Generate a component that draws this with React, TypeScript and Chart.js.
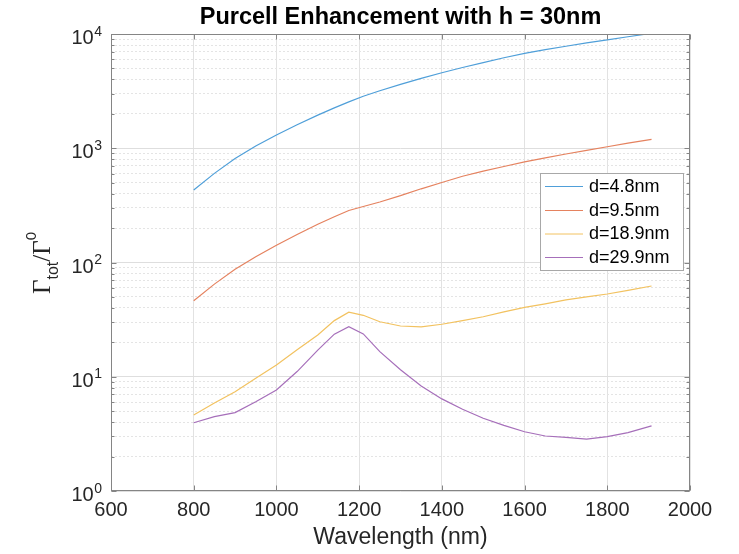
import React, { useEffect, useRef } from 'react';
import { Chart, registerables } from 'chart.js';

Chart.register(...registerables);

// ---- data ----
const wavelength = [800, 850, 900, 950, 1000, 1050, 1100, 1140, 1175, 1210, 1250, 1300, 1350, 1400, 1450, 1500, 1550, 1600, 1650, 1700, 1750, 1800, 1850, 1907];
const d48 = [431.5, 602.6, 812.8, 1047, 1306, 1607, 1950, 2254, 2547, 2851, 3184, 3622, 4093, 4581, 5093, 5623, 6194, 6776, 7295, 7816, 8356, 8872, 9462, 10139];
const d95 = [46.3, 64.7, 87.3, 112.5, 141.6, 175.8, 216.3, 251.2, 285.1, 309, 338.8, 384.6, 441.6, 501.2, 568.9, 631, 691.8, 758.6, 822.2, 891, 959.4, 1030, 1109, 1197];
const d189 = [4.63, 5.9, 7.4, 9.7, 12.7, 17.2, 23.2, 31, 36.7, 34.5, 30.3, 27.8, 27.3, 28.8, 31, 33.5, 37, 40.5, 43.5, 47, 50, 53, 57, 62.3];
const d299 = [3.96, 4.47, 4.85, 6.05, 7.66, 11.1, 17.1, 23.6, 27.4, 23.7, 16.6, 11.5, 8.3, 6.4, 5.2, 4.33, 3.75, 3.3, 3.03, 2.95, 2.85, 2.99, 3.24, 3.71];
const seriesLabels = ['d=4.8nm', 'd=9.5nm', 'd=18.9nm', 'd=29.9nm'];
const seriesValues = [d48, d95, d189, d299];
const seriesColors = ['#4f9fd9', '#e5825f', '#f2c260', '#a66fba'];

const xTickValues = [600, 800, 1000, 1200, 1400, 1600, 1800, 2000];
const yMajorTicks = [1, 10, 100, 1000, 10000];
const yExponentLabels = ['0', '1', '2', '3', '4'];
const yMinorTicks = [2, 3, 4, 5, 6, 7, 8, 9, 20, 30, 40, 50, 60, 70, 80, 90, 200, 300, 400, 500, 600, 700, 800, 900, 2000, 3000, 4000, 5000, 6000, 7000, 8000, 9000];

const titleText = 'Purcell Enhancement with h = 30nm';
const xTitleText = 'Wavelength (nm)';

const SANS = '"Liberation Sans", Arial, Helvetica, sans-serif';
const SERIF = '"Liberation Serif", "Times New Roman", serif';
const TEXT = '#262626';
const AXIS = '#858585';

const decorPlugin = {
  id: 'decor',
  afterDraw(chart: any) {
    const ctx = chart.ctx as CanvasRenderingContext2D;
    const a = chart.chartArea;
    const xs = chart.scales.x;
    const ys = chart.scales.y;
    const L = Math.round(a.left) + 0.5;
    const R = Math.round(a.right) - 0.5;
    const T = Math.round(a.top) + 0.5;
    const B = Math.round(a.bottom) - 0.5;
    ctx.save();

    // box
    ctx.strokeStyle = AXIS;
    ctx.lineWidth = 1;
    ctx.strokeRect(L, T, R - L, B - T);

    // inward tick marks
    ctx.beginPath();
    xTickValues.forEach((v) => {
      const px = Math.round(xs.getPixelForValue(v)) + 0.5;
      ctx.moveTo(px, B); ctx.lineTo(px, B - 5);
      ctx.moveTo(px, T); ctx.lineTo(px, T + 5);
    });
    yMajorTicks.forEach((v) => {
      const py = Math.round(ys.getPixelForValue(v)) + 0.5;
      ctx.moveTo(L, py); ctx.lineTo(L + 5, py);
      ctx.moveTo(R, py); ctx.lineTo(R - 5, py);
    });
    yMinorTicks.forEach((v) => {
      const py = Math.round(ys.getPixelForValue(v)) + 0.5;
      ctx.moveTo(L, py); ctx.lineTo(L + 3, py);
      ctx.moveTo(R, py); ctx.lineTo(R - 3, py);
    });
    ctx.stroke();

    // y tick labels 10^n
    ctx.fillStyle = TEXT;
    yMajorTicks.forEach((v, i) => {
      const py = ys.getPixelForValue(v);
      ctx.font = `14px ${SANS}`;
      const ew = ctx.measureText(yExponentLabels[i]).width;
      const expRight = a.left - 9;
      ctx.textAlign = 'left';
      ctx.textBaseline = 'alphabetic';
      ctx.fillText(yExponentLabels[i], expRight - ew, py + 1.5);
      ctx.font = `20px ${SANS}`;
      ctx.textAlign = 'right';
      ctx.textBaseline = 'middle';
      ctx.fillText('10', expRight - ew - 0.5, py + 4.5);
    });

    // title
    ctx.font = `bold 23.5px ${SANS}`;
    ctx.textAlign = 'center';
    ctx.textBaseline = 'middle';
    ctx.fillStyle = '#000';
    ctx.fillText(titleText, (a.left + a.right) / 2, 18);

    // x axis title
    ctx.font = `23px ${SANS}`;
    ctx.fillStyle = TEXT;
    ctx.fillText(xTitleText, (a.left + a.right) / 2, 538);

    // y axis title: Γ_tot / Γ^0 (rotated)
    const parts = [
      { t: '\u0393', f: `25px ${SERIF}`, dy: 0 },
      { t: 'tot', f: `16px ${SANS}`, dy: 8 },
      { t: '/\u0393', f: `25px ${SERIF}`, dy: 0 },
      { t: '0', f: `15px ${SANS}`, dy: -14 },
    ];
    let total = 0;
    const widths = parts.map((p) => { ctx.font = p.f; const w = ctx.measureText(p.t).width; total += w; return w; });
    ctx.translate(50, 263);
    ctx.rotate(-Math.PI / 2);
    ctx.textAlign = 'left';
    ctx.textBaseline = 'alphabetic';
    let cx = -total / 2;
    parts.forEach((p, i) => {
      ctx.font = p.f;
      ctx.fillText(p.t, cx, p.dy);
      cx += widths[i];
    });
    ctx.setTransform(1, 0, 0, 1, 0, 0);

    // legend
    const lx = 540.5, ly = 173.5, lw = 143, lh = 97;
    ctx.fillStyle = '#ffffff';
    ctx.fillRect(lx, ly, lw, lh);
    ctx.strokeStyle = '#a8a8a8';
    ctx.lineWidth = 1;
    ctx.strokeRect(lx, ly, lw, lh);
    const rows = [186, 210, 233.5, 257];
    ctx.font = `18px ${SANS}`;
    ctx.textAlign = 'left';
    ctx.textBaseline = 'middle';
    seriesLabels.forEach((lab, i) => {
      ctx.strokeStyle = seriesColors[i];
      ctx.beginPath();
      ctx.moveTo(545, rows[i] + 0.5);
      ctx.lineTo(583, rows[i] + 0.5);
      ctx.stroke();
      ctx.fillStyle = '#000';
      ctx.fillText(lab, 589, rows[i] + 1);
    });

    ctx.restore();
  },
};

export default function App() {
  const ref = useRef<HTMLCanvasElement | null>(null);
  useEffect(() => {
    if (!ref.current) return;
    const chart = new Chart(ref.current, {
      type: 'line',
      data: {
        datasets: seriesValues.map((vals, i) => ({
          label: seriesLabels[i],
          data: wavelength.map((w, j) => ({ x: w, y: vals[j] })),
          borderColor: seriesColors[i],
          backgroundColor: seriesColors[i],
          borderWidth: 1.2,
          pointRadius: 0,
          tension: 0,
          fill: false,
        })),
      },
      options: {
        animation: false,
        responsive: false,
        maintainAspectRatio: false,
        layout: { padding: { left: 0, right: 49, top: 34, bottom: 0 } },
        plugins: {
          legend: { display: false },
          title: { display: false },
          tooltip: { enabled: false },
        },
        scales: {
          x: {
            type: 'linear',
            min: 600,
            max: 2000,
            afterBuildTicks: (s: any) => { s.ticks = xTickValues.map((v) => ({ value: v })); },
            afterFit: (s: any) => { s.height = 63; },
            ticks: {
              autoSkip: false,
              maxRotation: 0,
              padding: 7,
              color: TEXT,
              font: { family: SANS, size: 20 },
              callback: (v: any) => String(v),
            },
            grid: { color: '#e2e2e2', drawTicks: false, lineWidth: 1 },
            border: { display: false },
          },
          y: {
            type: 'logarithmic',
            position: 'left',
            min: 1,
            max: 10000,
            afterBuildTicks: (s: any) => { s.ticks = yMajorTicks.map((v) => ({ value: v })); },
            afterFit: (s: any) => { s.width = 111; },
            ticks: { display: false },
            grid: { color: '#dedede', drawTicks: false, lineWidth: 1 },
            border: { display: false },
          },
          y2: {
            type: 'logarithmic',
            position: 'left',
            min: 1,
            max: 10000,
            afterBuildTicks: (s: any) => { s.ticks = yMinorTicks.map((v) => ({ value: v })); },
            afterFit: (s: any) => { s.width = 0; },
            ticks: { display: false },
            grid: { color: '#e4e4e4', drawTicks: false, lineWidth: 1 },
            border: { display: false, dash: [2, 2] },
          },
        },
      } as any,
      plugins: [decorPlugin],
    });
    return () => chart.destroy();
  }, []);
  return (
    <div style={{ position: 'absolute', left: 0, top: 0, width: 739, height: 554, background: '#fff' }}>
      <canvas ref={ref} width={739} height={554} style={{ width: 739, height: 554, display: 'block' }} />
    </div>
  );
}
